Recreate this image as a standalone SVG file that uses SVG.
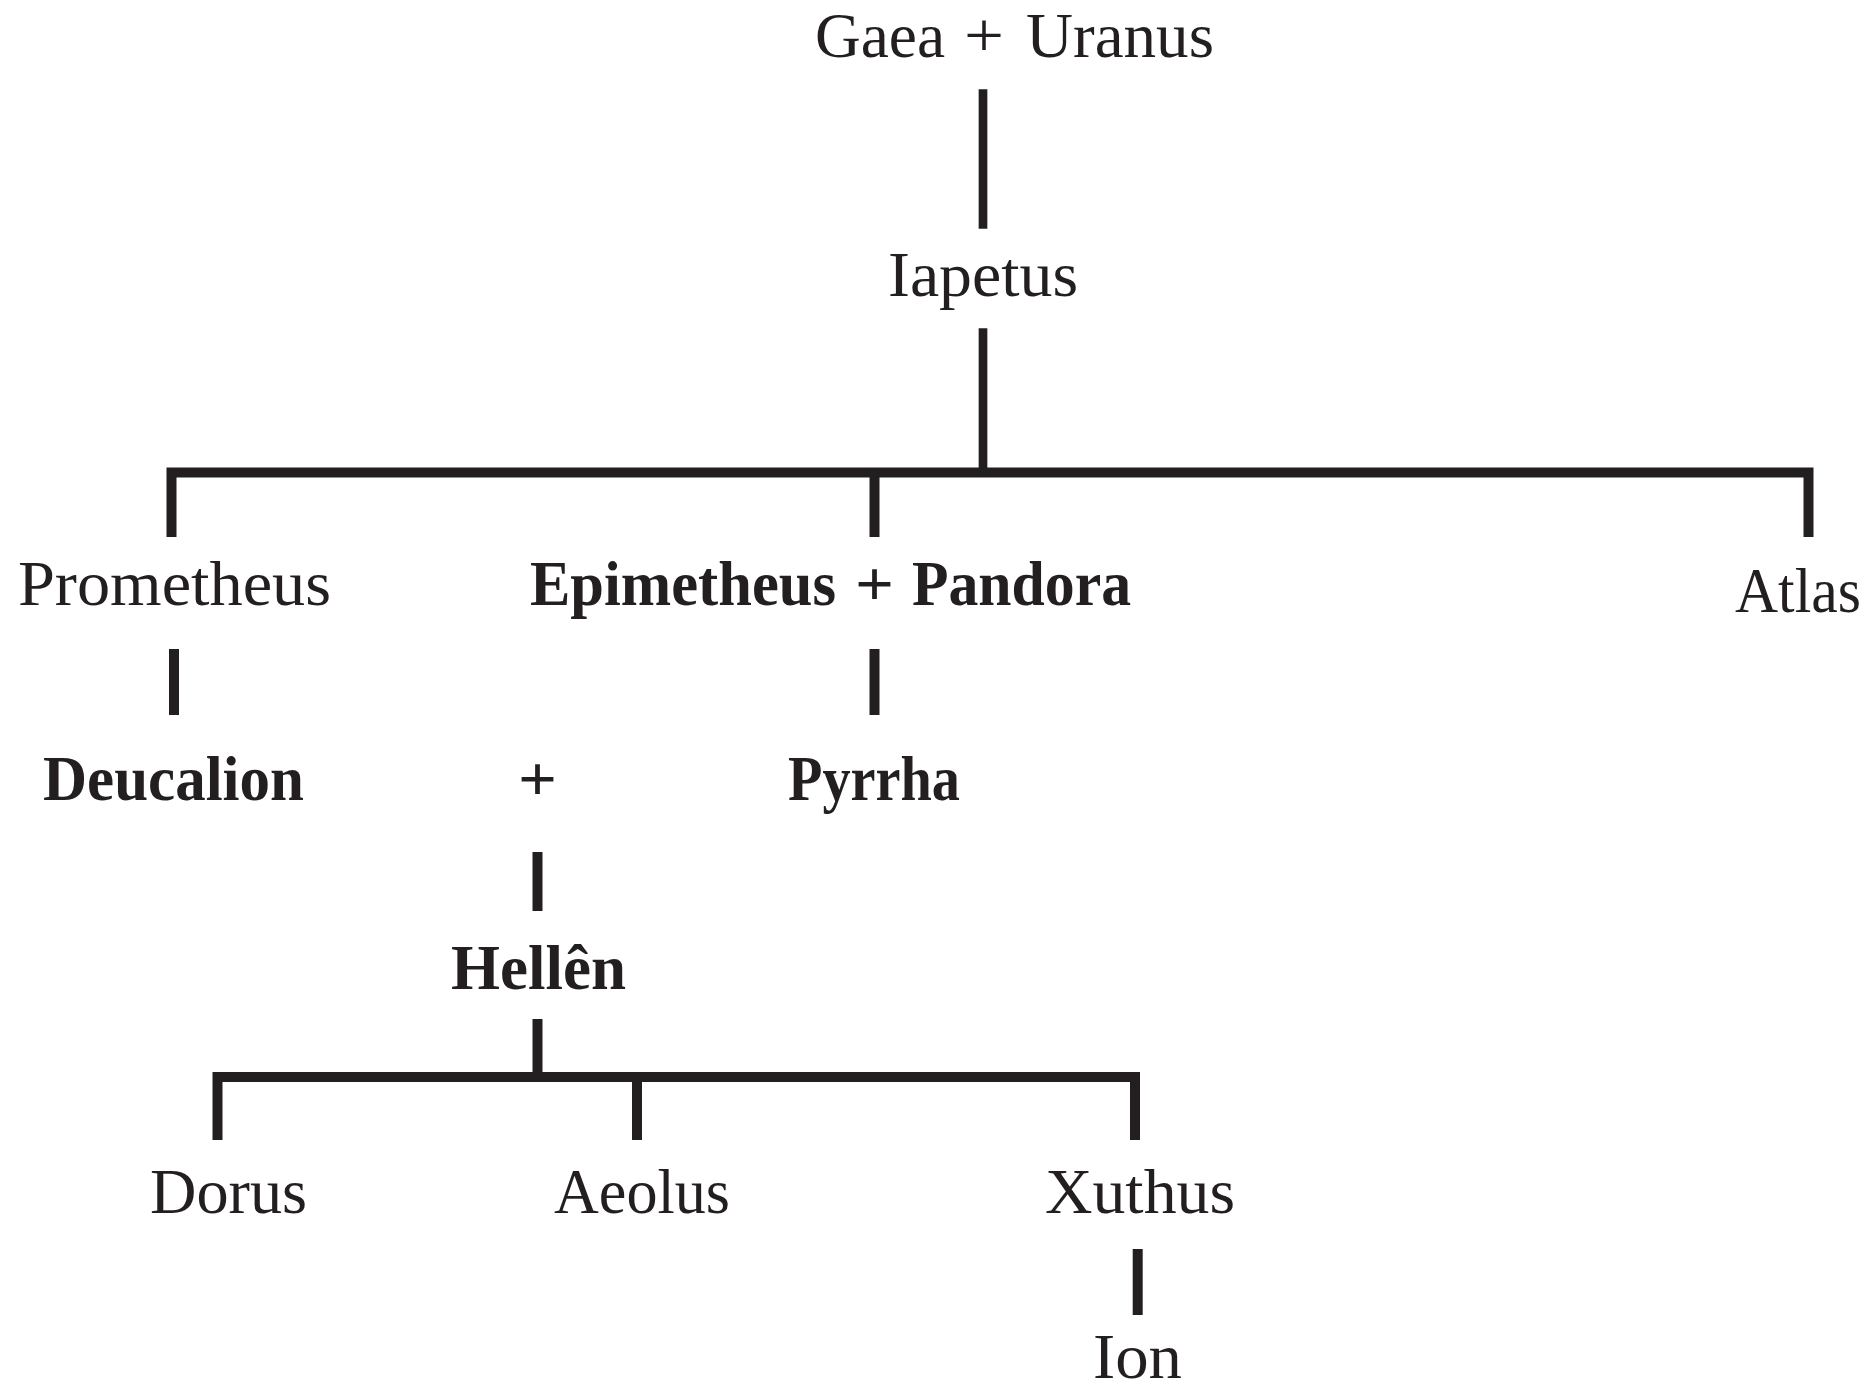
<svg xmlns="http://www.w3.org/2000/svg" width="1871" height="1387" viewBox="0 0 1871 1387">
<style>
.t{font-family:"Liberation Serif","Times New Roman",serif;font-size:64px;fill:#231f20}
.b{font-weight:bold}
.ln{stroke:#231f20;fill:none;stroke-linecap:butt;stroke-linejoin:miter}
.thin{stroke-width:8.7}
.thick{stroke-width:10}
</style>
<rect width="1871" height="1387" fill="#ffffff"/>
<g id="connectors">
<path class="ln thin" d="M983 89.3V228.7"/>
<path class="ln thin" d="M983 328.3V472"/>
<path class="ln thick" d="M171.5 537V472.5H1808.5V537"/>
<path class="ln thick" d="M874.5 472V537"/>
<path class="ln thick" d="M174 649V715"/>
<path class="ln thick" d="M874.5 649V715"/>
<path class="ln thick" d="M537.5 852V911"/>
<path class="ln thick" d="M537.5 1019V1077"/>
<path class="ln thick" d="M217.5 1140V1077H1135V1140"/>
<path class="ln thick" d="M637 1077V1140"/>
<path class="ln thick" d="M1137.7 1249V1315"/>
</g>
<g id="gaea-uranus">
<text class="t" y="57"><tspan x="815" textLength="130" lengthAdjust="spacingAndGlyphs">Gaea</tspan><tspan x="964" textLength="40" lengthAdjust="spacingAndGlyphs">+</tspan><tspan x="1026" textLength="188" lengthAdjust="spacingAndGlyphs">Uranus</tspan></text>
</g>
<g id="iapetus">
<text class="t" x="888" y="296" textLength="190" lengthAdjust="spacingAndGlyphs">Iapetus</text>
</g>
<g id="prometheus">
<text class="t" x="18" y="605" textLength="313" lengthAdjust="spacingAndGlyphs">Prometheus</text>
</g>
<g id="epimetheus-pandora">
<text class="t b" y="605"><tspan x="530" textLength="306" lengthAdjust="spacingAndGlyphs">Epimetheus</tspan><tspan x="855" textLength="39" lengthAdjust="spacingAndGlyphs">+</tspan><tspan x="912" textLength="219" lengthAdjust="spacingAndGlyphs">Pandora</tspan></text>
</g>
<g id="atlas">
<text class="t" x="1735" y="612" textLength="126" lengthAdjust="spacingAndGlyphs">Atlas</text>
</g>
<g id="deucalion">
<text class="t b" x="43" y="800" textLength="261" lengthAdjust="spacingAndGlyphs">Deucalion</text>
</g>
<g id="plus">
<text class="t b" x="518" y="800" textLength="39" lengthAdjust="spacingAndGlyphs">+</text>
</g>
<g id="pyrrha">
<text class="t b" x="788" y="800" textLength="172" lengthAdjust="spacingAndGlyphs">Pyrrha</text>
</g>
<g id="hellen">
<text class="t b" x="451" y="989" textLength="175" lengthAdjust="spacingAndGlyphs">Hellên</text>
</g>
<g id="dorus">
<text class="t" x="150" y="1213" textLength="157" lengthAdjust="spacingAndGlyphs">Dorus</text>
</g>
<g id="aeolus">
<text class="t" x="554" y="1213" textLength="176" lengthAdjust="spacingAndGlyphs">Aeolus</text>
</g>
<g id="xuthus">
<text class="t" x="1045" y="1213" textLength="190" lengthAdjust="spacingAndGlyphs">Xuthus</text>
</g>
<g id="ion">
<text class="t" x="1093" y="1378" textLength="89" lengthAdjust="spacingAndGlyphs">Ion</text>
</g>
</svg>
